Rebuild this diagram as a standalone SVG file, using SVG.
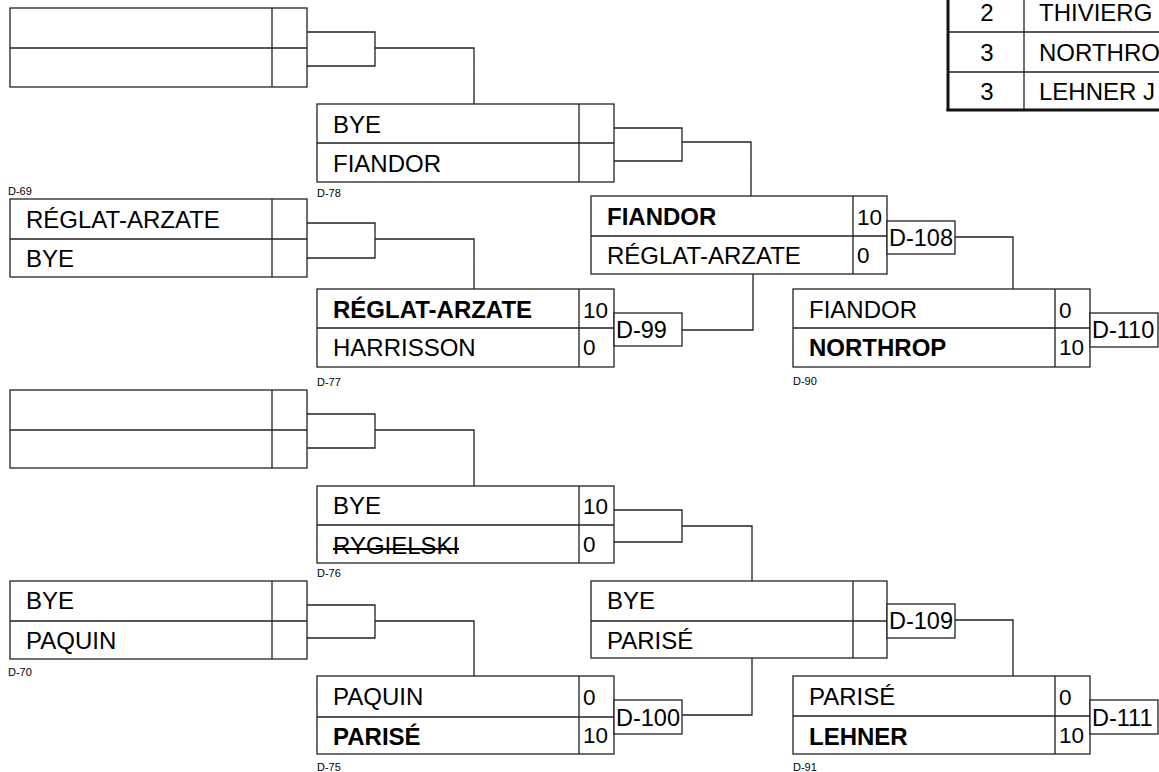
<svg xmlns="http://www.w3.org/2000/svg" width="1159" height="772" viewBox="0 0 1159 772">
<style>
.bx{fill:#fff;stroke:#222;stroke-width:1.3}
.dv{fill:none;stroke:#222;stroke-width:1.3}
.ln{fill:none;stroke:#222;stroke-width:1.3}
.th{fill:none;stroke:#111;stroke-width:3}
.st{stroke:#000;stroke-width:2}
text{font-family:"Liberation Sans",Arial,sans-serif;fill:#000}
.nm{font-size:24px}
.b{font-weight:bold}
.sc{font-size:22.5px}
.lb{font-size:11px}
.dl{font-size:23.5px}
</style>
<rect width="1159" height="772" fill="#fff"/>

<g id="connectors">
<path class="ln" d="M307,32 H375 V66 H307 M375,48 H474 V104"/>
<path class="ln" d="M614,128 H682 V161 H614 M682,142 H751 V196"/>
<path class="ln" d="M307,223 H375 V258 H307 M375,239 H474 V289"/>
<path class="ln" d="M682,330 H753 V274"/>
<path class="ln" d="M955,237 H1013 V289"/>
<path class="ln" d="M307,414 H375 V448 H307 M375,430 H474 V486"/>
<path class="ln" d="M614,510 H682 V542 H614 M682,526 H752 V581"/>
<path class="ln" d="M307,605 H375 V638 H307 M375,621 H474 V676"/>
<path class="ln" d="M682,715 H752 V658"/>
<path class="ln" d="M955,620 H1013 V676"/>
</g>

<g id="table">
<line class="dv" x1="948" y1="32" x2="1160" y2="32"/>
<line class="dv" x1="948" y1="72" x2="1160" y2="72"/>
<line class="dv" x1="1024" y1="0" x2="1024" y2="110"/>
<line class="th" x1="948" y1="-2" x2="948" y2="111"/>
<line class="th" x1="946.5" y1="110" x2="1160" y2="110"/>
<text class="nm" x="987" y="21" text-anchor="middle">2</text>
<text class="nm" x="987" y="61" text-anchor="middle">3</text>
<text class="nm" x="987" y="100" text-anchor="middle">3</text>
<text class="nm" x="1039" y="21">THIVIERG</text>
<text class="nm" x="1039" y="61">NORTHRO</text>
<text class="nm" x="1039" y="100">LEHNER J</text>
</g>

<g id="nA">
<rect class="bx" x="10" y="8" width="297" height="79"/>
<path class="dv" d="M10,48 H307 M272,8 V87"/>
</g>

<g id="D-78">
<rect class="bx" x="317" y="104" width="297" height="78"/>
<path class="dv" d="M317,143 H614 M579,104 V182"/>
<text class="nm" x="333" y="133">BYE</text>
<text class="nm" x="333" y="172">FIANDOR</text>
<text class="lb" x="317" y="197">D-78</text>
</g>

<g id="D-69">
<rect class="bx" x="10" y="199" width="297" height="78"/>
<path class="dv" d="M10,239 H307 M272,199 V277"/>
<text class="nm" x="26" y="228">RÉGLAT-ARZATE</text>
<text class="nm" x="26" y="267">BYE</text>
<text class="lb" x="8" y="195">D-69</text>
</g>

<g id="D-99">
<rect class="bx" x="317" y="289" width="297" height="78"/>
<path class="dv" d="M317,328 H614 M579,289 V367"/>
<text class="nm b" x="333" y="318">RÉGLAT-ARZATE</text>
<text class="nm" x="333" y="356">HARRISSON</text>
<text class="sc" x="583" y="318">10</text>
<text class="sc" x="583" y="355">0</text>
<text class="lb" x="317" y="386">D-77</text>
<rect class="bx" x="614" y="313" width="68" height="33"/>
<text class="dl" x="616" y="338">D-99</text>
</g>

<g id="D-108">
<rect class="bx" x="591" y="196" width="296" height="78"/>
<path class="dv" d="M591,236 H887 M853,196 V274"/>
<text class="nm b" x="607" y="225">FIANDOR</text>
<text class="nm" x="607" y="264">RÉGLAT-ARZATE</text>
<text class="sc" x="857" y="225">10</text>
<text class="sc" x="857" y="263">0</text>
<rect class="bx" x="887" y="221" width="68" height="33"/>
<text class="dl" x="889" y="246">D-108</text>
</g>

<g id="D-110">
<rect class="bx" x="793" y="289" width="297" height="78"/>
<path class="dv" d="M793,328 H1090 M1055,289 V367"/>
<text class="nm" x="809" y="318">FIANDOR</text>
<text class="nm b" x="809" y="356">NORTHROP</text>
<text class="sc" x="1059" y="318">0</text>
<text class="sc" x="1059" y="355">10</text>
<text class="lb" x="793" y="385">D-90</text>
<rect class="bx" x="1090" y="313" width="68" height="34"/>
<text class="dl" x="1092" y="338">D-110</text>
</g>

<g id="nC">
<rect class="bx" x="10" y="390" width="297" height="78"/>
<path class="dv" d="M10,430 H307 M272,390 V468"/>
</g>

<g id="D-76">
<rect class="bx" x="317" y="486" width="297" height="77"/>
<path class="dv" d="M317,525 H614 M579,486 V563"/>
<text class="nm" x="333" y="514">BYE</text>
<text class="nm" x="333" y="554">RYGIELSKI</text>
<line class="st" x1="333" y1="549" x2="459" y2="549"/>
<text class="sc" x="583" y="514">10</text>
<text class="sc" x="583" y="552">0</text>
<text class="lb" x="317" y="577">D-76</text>
</g>

<g id="D-70">
<rect class="bx" x="10" y="581" width="297" height="78"/>
<path class="dv" d="M10,621 H307 M272,581 V659"/>
<text class="nm" x="26" y="609">BYE</text>
<text class="nm" x="26" y="649">PAQUIN</text>
<text class="lb" x="8" y="676">D-70</text>
</g>

<g id="D-109">
<rect class="bx" x="591" y="581" width="296" height="77"/>
<path class="dv" d="M591,621 H887 M853,581 V658"/>
<text class="nm" x="607" y="609">BYE</text>
<text class="nm" x="607" y="649">PARISÉ</text>
<rect class="bx" x="887" y="604" width="68" height="34"/>
<text class="dl" x="889" y="629">D-109</text>
</g>

<g id="D-100">
<rect class="bx" x="317" y="676" width="297" height="78"/>
<path class="dv" d="M317,717 H614 M579,676 V754"/>
<text class="nm" x="333" y="705">PAQUIN</text>
<text class="nm b" x="333" y="745">PARISÉ</text>
<text class="sc" x="583" y="705">0</text>
<text class="sc" x="583" y="743">10</text>
<text class="lb" x="317" y="771">D-75</text>
<rect class="bx" x="614" y="700" width="68" height="34"/>
<text class="dl" x="616" y="726">D-100</text>
</g>

<g id="D-111">
<rect class="bx" x="793" y="676" width="297" height="78"/>
<path class="dv" d="M793,716 H1090 M1055,676 V754"/>
<text class="nm" x="809" y="705">PARISÉ</text>
<text class="nm b" x="809" y="745">LEHNER</text>
<text class="sc" x="1059" y="705">0</text>
<text class="sc" x="1059" y="743">10</text>
<text class="lb" x="793" y="771">D-91</text>
<rect class="bx" x="1090" y="700" width="68" height="34"/>
<text class="dl" x="1092" y="726">D-111</text>
</g>
</svg>
